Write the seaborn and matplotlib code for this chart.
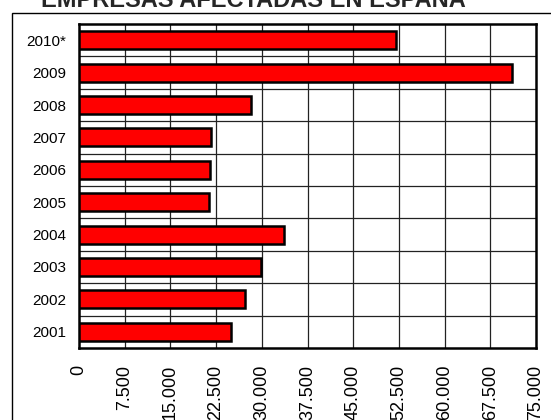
import numpy as np
import pandas as pd
import matplotlib
matplotlib.use("Agg")
import matplotlib.pyplot as plt
import seaborn as sns
from matplotlib.patches import Rectangle

sns.set_theme(style="white")
plt.rcParams["font.family"] = ["Liberation Sans", "DejaVu Sans"]

# data
years = ["2010*", "2009", "2008", "2007", "2006", "2005", "2004", "2003", "2002", "2001"]
empresas = [52000, 71000, 28200, 21600, 21500, 21400, 33600, 29900, 27200, 25000]
xticks = [0, 7500, 15000, 22500, 30000, 37500, 45000, 52500, 60000, 67500, 75000]
xtick_labels = ["0", "7.500", "15.000", "22.500", "30.000", "37.500", "45.000",
                "52.500", "60.000", "67.500", "75.000"]

df = pd.DataFrame({"anio": years, "empresas": empresas})

fig = plt.figure(figsize=(5.51, 4.20), dpi=100)
ax = fig.add_axes([79 / 551, 1 - 348 / 420, (536 - 79) / 551, (348 - 24) / 420])

sns.barplot(data=df, y="anio", x="empresas", order=years, orient="h",
            color="#FF0000", saturation=1, width=0.56,
            edgecolor="black", linewidth=1.8, ax=ax, zorder=3)

ax.set_xlim(0, 75000)
ax.set_ylim(len(years) - 0.5, -0.5)
ax.set_xticks(xticks)
ax.set_xticklabels(xtick_labels, rotation=90, fontsize=13)
ax.set_yticks(range(len(years)))
ax.set_yticklabels(years, fontsize=11)
ax.set_xlabel("")
ax.set_ylabel("")
ax.tick_params(axis="x", length=0, pad=12, colors="black")
ax.tick_params(axis="y", length=0, pad=9, colors="black")

# grid: vertical at x ticks, horizontal between categories
for xv in xticks[1:-1]:
    ax.axvline(xv, color="#222222", lw=0.9, zorder=1)
for yb in np.arange(0.5, len(years) - 0.5, 1):
    ax.axhline(yb, color="#222222", lw=0.9, zorder=1)

for s in ax.spines.values():
    s.set_visible(True)
    s.set_color("black")
    s.set_linewidth(1.8)

# outer chart frame (partly cut at right and bottom)
fig.patches.append(Rectangle((12 / 551, -0.2), 1.2, 1.2 - 13 / 420,
                             transform=fig.transFigure, fill=False,
                             edgecolor="black", lw=1.0))

fig.text(253.5 / 551, 1 - 7 / 420, "EMPRESAS AFECTADAS EN ESPAÑA",
         ha="center", va="baseline", fontsize=17, fontweight="bold")

fig.savefig("out.png", dpi=100, facecolor="white")
